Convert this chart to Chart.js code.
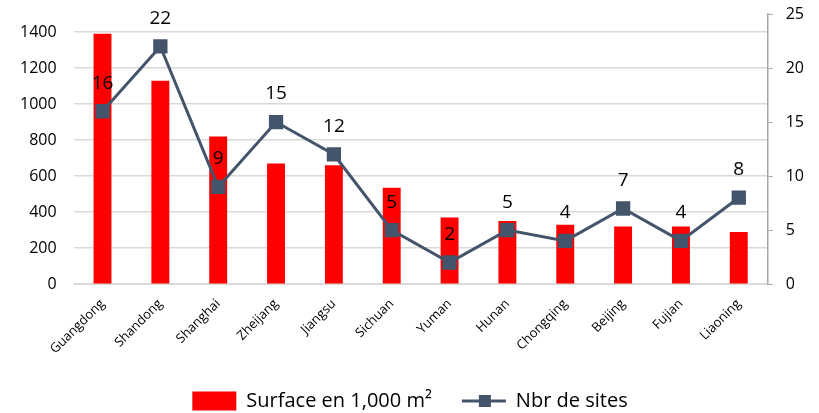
<!DOCTYPE html>
<html>
<head>
<meta charset="utf-8">
<style>
  html, body { margin: 0; padding: 0; background: #fff; }
  #wrap { width: 819px; height: 413px; }
</style>
</head>
<body>
<div id="wrap"><canvas id="chart"></canvas></div>
<script src="https://cdn.jsdelivr.net/npm/chart.js@4.4.0/dist/chart.umd.min.js"></script>
<script>
// data
const provinces = ['Guangdong', 'Shandong', 'Shanghai', 'Zheijang', 'Jiangsu', 'Sichuan',
                   'Yuman', 'Hunan', 'Chongqing', 'Beijing', 'Fujian', 'Liaoning'];
const surface = [1390, 1130, 820, 670, 660, 535, 370, 350, 330, 320, 320, 290];
const sites = [16, 22, 9, 15, 12, 5, 2, 5, 4, 7, 4, 8];

const FONT = "'Open Sans', 'Noto Sans', sans-serif";
const LINE_COLOR = '#44546A';

// value labels above the line points + marker on the legend line
const sitesLabels = {
  id: 'sitesLabels',
  afterDatasetsDraw(chart) {
    const ctx = chart.ctx;
    const meta = chart.getDatasetMeta(1);
    ctx.save();
    ctx.font = '19px ' + FONT;
    ctx.fillStyle = '#000';
    ctx.textAlign = 'center';
    ctx.textBaseline = 'middle';
    meta.data.forEach((pt, i) => {
      ctx.fillText(String(sites[i]), pt.x, pt.y - 28);
    });
    ctx.restore();
  },
  afterDraw(chart) {
    const box = chart.legend.legendHitBoxes[1];
    if (!box) return;
    const ctx = chart.ctx;
    const cx = box.left + 23;
    const cy = box.top + box.height / 2;
    ctx.save();
    ctx.fillStyle = LINE_COLOR;
    ctx.fillRect(cx - 6, cy - 6, 12, 12);
    ctx.restore();
  }
};

// the y tick padding should not push the plot area down
const noVertPad = s => { s.paddingTop = 0; s.paddingBottom = 0; };

new Chart(document.getElementById('chart'), {
  data: {
    labels: provinces,
    datasets: [
      {
        type: 'bar',
        label: 'Surface en 1,000 m²',
        data: surface,
        backgroundColor: '#FF0000',
        yAxisID: 'y',
        barPercentage: 0.62,
        categoryPercentage: 0.5,
        order: 2
      },
      {
        type: 'line',
        label: 'Nbr de sites',
        data: sites,
        borderColor: LINE_COLOR,
        backgroundColor: LINE_COLOR,
        borderWidth: 3,
        pointStyle: 'rect',
        pointRadius: 8,
        pointHoverRadius: 8,
        tension: 0,
        yAxisID: 'y1',
        order: 1
      }
    ]
  },
  options: {
    responsive: true,
    maintainAspectRatio: false,
    animation: false,
    layout: { padding: { top: 14, left: 3, right: 2, bottom: -8 } },
    scales: {
      x: {
        grid: { display: false },
        border: { display: true, color: '#D9D9D9' },
        ticks: {
          color: '#000',
          font: { family: FONT, size: 13 },
          maxRotation: 45,
          minRotation: 45,
          padding: 4
        }
      },
      y: {
        position: 'left',
        min: 0,
        max: 1500,
        border: { display: false },
        grid: { color: '#D9D9D9', lineWidth: 1.5, drawTicks: false },
        afterFit: noVertPad,
        ticks: {
          stepSize: 200,
          includeBounds: false,
          color: '#000',
          padding: 17,
          font: { family: FONT, size: 16 },
          callback: v => String(v)
        }
      },
      y1: {
        position: 'right',
        min: 0,
        max: 25,
        border: { display: true, color: '#A6A6A6', width: 1.5 },
        grid: { drawOnChartArea: false, drawTicks: true, tickLength: 5, color: '#A6A6A6' },
        afterFit: noVertPad,
        ticks: {
          stepSize: 5,
          color: '#000',
          padding: 13,
          font: { family: FONT, size: 16 }
        }
      }
    },
    plugins: {
      tooltip: { enabled: false },
      legend: {
        position: 'bottom',
        labels: {
          color: '#000',
          font: { family: FONT, size: 20 },
          usePointStyle: true,
          pointStyleWidth: 44,
          boxHeight: 19,
          padding: 30,
          generateLabels(chart) {
            return chart.data.datasets.map((ds, i) => ({
              text: ds.label,
              datasetIndex: i,
              fillStyle: i === 0 ? '#FF0000' : LINE_COLOR,
              strokeStyle: i === 0 ? '#FF0000' : LINE_COLOR,
              lineWidth: i === 0 ? 0 : 3,
              pointStyle: i === 0 ? 'rect' : 'line',
              hidden: false
            }));
          }
        }
      }
    }
  },
  plugins: [sitesLabels]
});
</script>
</body>
</html>
